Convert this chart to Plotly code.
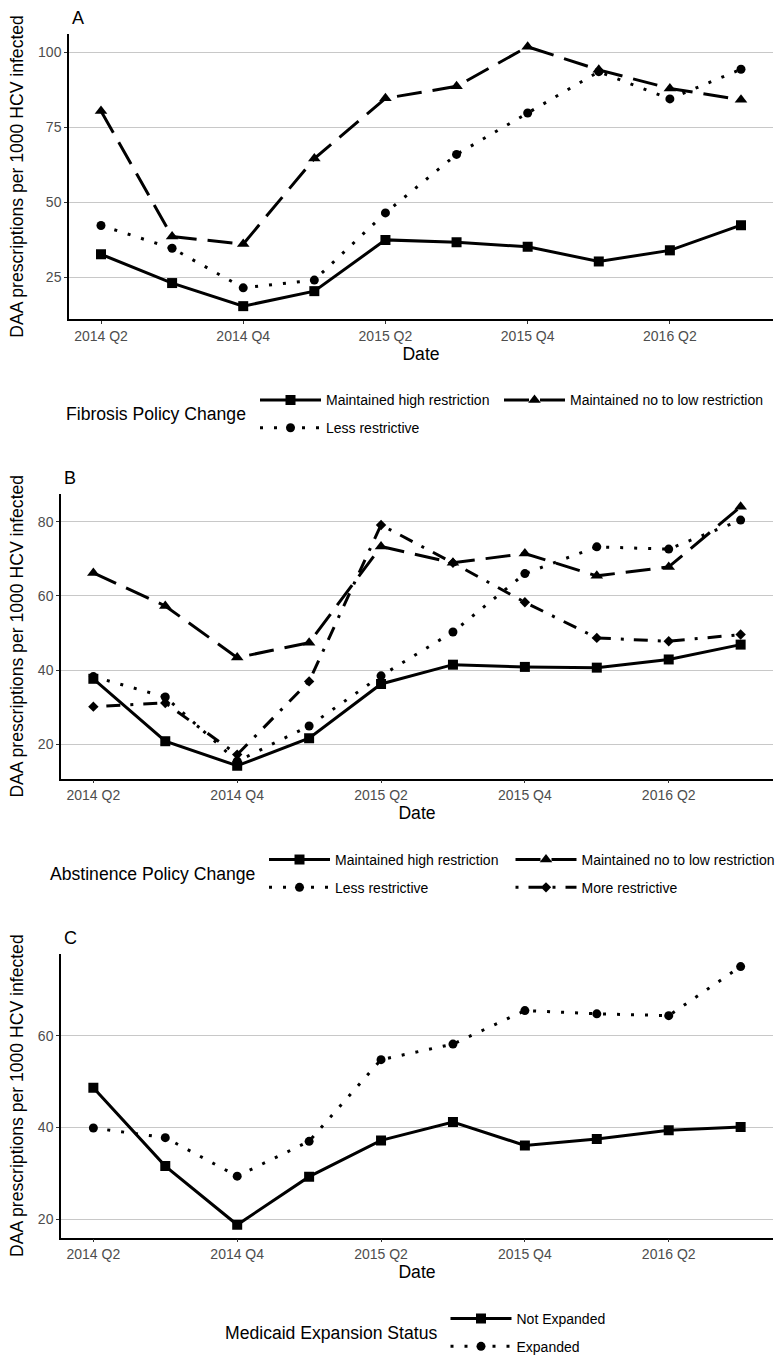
import plotly.graph_objects as go

# ---- data -------------------------------------------------------------
quarters = ["2014 Q2", "2014 Q3", "2014 Q4", "2015 Q1", "2015 Q2",
            "2015 Q3", "2015 Q4", "2016 Q1", "2016 Q2", "2016 Q3"]
x_tick_labels = ["2014 Q2", "2014 Q4", "2015 Q2", "2015 Q4", "2016 Q2"]

# Panel A: fibrosis policy change
fib_high = [32.7, 23.1, 15.4, 20.4, 37.5, 36.7, 35.2, 30.3, 34.0, 42.4]
fib_nolow = [80.5, 38.6, 36.1, 64.6, 84.7, 88.7, 101.9, 94.2, 88.0, 84.2]
fib_less = [42.3, 34.7, 21.5, 24.1, 46.5, 66.0, 79.8, 93.6, 84.5, 94.4]
fib_ticks = [25, 50, 75, 100]

# Panel B: abstinence policy change
abst_high = [37.7, 20.9, 14.3, 21.7, 36.3, 41.5, 40.9, 40.7, 42.9, 46.9]
abst_nolow = [66.2, 57.3, 43.4, 47.4, 73.3, 68.9, 71.4, 65.4, 67.8, 84.0]
abst_less = [38.3, 32.8, 15.5, 25.0, 38.5, 50.3, 66.0, 73.2, 72.6, 80.4]
abst_more = [30.2, 31.2, 17.3, 37.0, 79.1, 68.9, 58.3, 48.7, 47.8, 49.6]
abst_ticks = [20, 40, 60, 80]

# Panel C: Medicaid expansion status
med_not = [48.7, 31.6, 18.8, 29.3, 37.2, 41.2, 36.1, 37.5, 39.4, 40.1]
med_exp = [39.9, 37.8, 29.4, 37.0, 54.8, 58.2, 65.5, 64.8, 64.4, 75.1]
med_ticks = [20, 40, 60]

# ---- page geometry ------------------------------------------------------
W, H = 781, 1363
M_R = 8
PW = W - M_R
FONT = "Liberation Sans, Arial, sans-serif"
Y_TITLE = "DAA prescriptions per 1000 HCV infected"


def fx(px):
    return px / PW


def fy(py):
    return 1 - py / H


def padded(*series, mult=0.05):
    lo = min(min(s) for s in series)
    hi = max(max(s) for s in series)
    pad = (hi - lo) * mult
    return [lo - pad, hi + pad]


STYLE = {
    "solid": "solid",
    "longdash": "25px,11px",
    "dotted": "3px,11px",
    "dotdash": "3px,10px,14px,10px",
}
SYMBOL_SIZE = {"square": 10, "triangle-up": 11, "circle": 9, "diamond": 8}

# each series: (name, values, line style, marker, legend row, legend column)
panels = [
    dict(tag="A", left=69, top=34, bottom=321, ticks=fib_ticks,
         title="Fibrosis Policy Change", rows=(402.7, 430.7), cols=(290.5, 534.5),
         series=[("Maintained high restriction", fib_high, "solid", "square", 0, 0),
                 ("Maintained no to low restriction", fib_nolow, "longdash", "triangle-up", 0, 1),
                 ("Less restrictive", fib_less, "dotted", "circle", 1, 0)]),
    dict(tag="B", left=61, top=496.7, bottom=783.3, ticks=abst_ticks,
         title="Abstinence Policy Change", rows=(865, 893), cols=(299.5, 546),
         series=[("Maintained high restriction", abst_high, "solid", "square", 0, 0),
                 ("Maintained no to low restriction", abst_nolow, "longdash", "triangle-up", 0, 1),
                 ("Less restrictive", abst_less, "dotted", "circle", 1, 0),
                 ("More restrictive", abst_more, "dotdash", "diamond", 1, 1)]),
    dict(tag="C", left=61, top=959.3, bottom=1245, ticks=med_ticks,
         title="Medicaid Expansion Status", rows=(1326.7, 1354.7), cols=(481,),
         series=[("Not Expanded", med_not, "solid", "square", 0, 0),
                 ("Expanded", med_exp, "dotted", "circle", 1, 0)]),
]

fig = go.Figure()
layout = dict(
    width=W, height=H,
    margin=dict(l=0, r=M_R, t=0, b=0),
    paper_bgcolor="white", plot_bgcolor="white",
    font=dict(family=FONT, color="black"),
    showlegend=True,
    annotations=[],
)

ITEM_W = 61          # legend key length
KEY_HALF = (ITEM_W + 10) / 2
legend_no = 0
for p_i, p in enumerate(panels):
    n = p_i + 1
    xa = "x" if n == 1 else f"x{n}"
    ya = "y" if n == 1 else f"y{n}"
    values = [s[1] for s in p["series"]]

    for name, vals, dash, symbol, row, col in p["series"]:
        legend_no += 1
        lid = "legend" if legend_no == 1 else f"legend{legend_no}"
        layout[lid] = dict(
            orientation="h", xanchor="left", yanchor="middle",
            x=fx(p["cols"][col] - KEY_HALF), y=fy(p["rows"][row]),
            itemwidth=ITEM_W,
            font=dict(family=FONT, size=14, color="black"),
            bgcolor="rgba(0,0,0,0)", borderwidth=0,
        )
        fig.add_trace(go.Scatter(
            x=quarters, y=vals, name=name, mode="lines+markers",
            xaxis=xa, yaxis=ya, legend=lid,
            line=dict(color="black", width=3, dash=STYLE[dash]),
            marker=dict(symbol=symbol, size=SYMBOL_SIZE[symbol], color="black",
                        line=dict(width=0)),
            hovertemplate="%{x}: %{y:.1f}<extra>" + name + "</extra>",
        ))

    axis_key = "" if n == 1 else str(n)
    layout["xaxis" + axis_key] = dict(
        domain=[fx(p["left"]), 1.0], anchor=ya,
        type="category", categoryorder="array", categoryarray=quarters,
        range=[-0.45, len(quarters) - 1 + 0.45],
        tickmode="array", tickvals=x_tick_labels, ticktext=x_tick_labels,
        ticks="outside", ticklen=3, tickwidth=1.2, tickcolor="#333333",
        tickfont=dict(family=FONT, size=14, color="#4D4D4D"),
        showgrid=False, zeroline=False,
        showline=True, linecolor="black", linewidth=1.5,
        title=dict(text="Date", font=dict(family=FONT, size=17.6, color="black"),
                   standoff=4),
    )
    layout["yaxis" + axis_key] = dict(
        domain=[fy(p["bottom"]), fy(p["top"])], anchor=xa,
        range=padded(*values),
        tickmode="array", tickvals=p["ticks"], ticktext=[str(t) for t in p["ticks"]],
        ticks="outside", ticklen=3, tickwidth=1.2, tickcolor="#333333",
        tickfont=dict(family=FONT, size=14, color="#4D4D4D"),
        showgrid=True, gridcolor="#C8C8C8", gridwidth=1,
        zeroline=False,
        showline=True, linecolor="black", linewidth=1.5,
        title=dict(text=Y_TITLE, font=dict(family=FONT, size=17.6, color="black"),
                   standoff=10),
    )

    # panel tag
    layout["annotations"].append(dict(
        text=p["tag"], xref="paper", yref="paper",
        x=fx(p["left"] + 1), y=fy(p["top"] - 16),
        xanchor="left", yanchor="middle", showarrow=False,
        font=dict(family=FONT, size=18, color="black"),
    ))
    # legend title, to the left of the keys and centred on the two rows
    layout["annotations"].append(dict(
        text=p["title"], xref="paper", yref="paper",
        x=fx(p["cols"][0] - KEY_HALF - 7), y=fy((p["rows"][0] + p["rows"][1]) / 2),
        xanchor="right", yanchor="middle", showarrow=False,
        font=dict(family=FONT, size=17.6, color="black"),
    ))

fig.update_layout(**layout)
fig.write_html("out.html")
